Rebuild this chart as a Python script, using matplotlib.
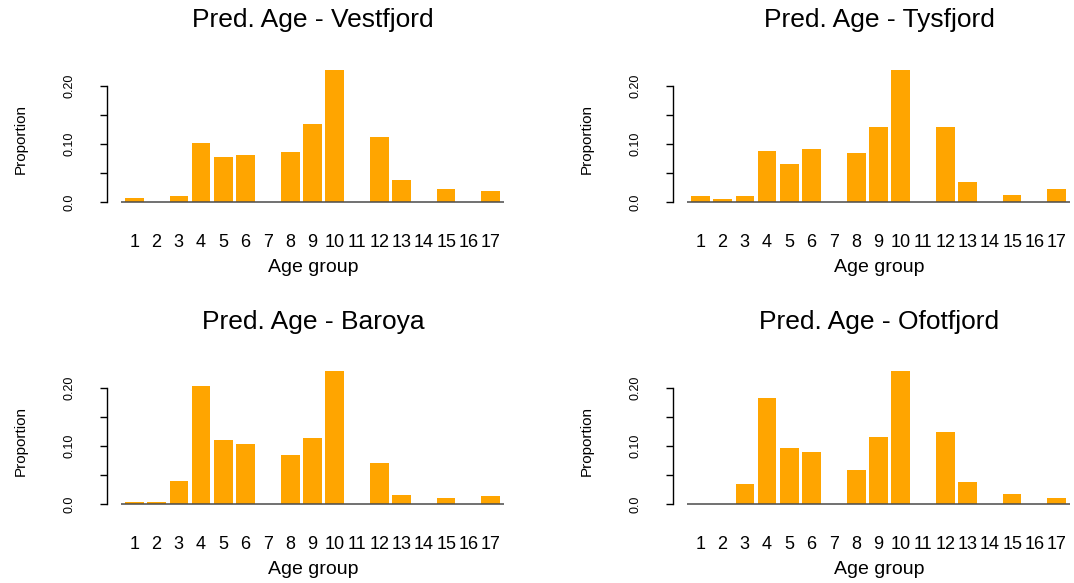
import matplotlib
matplotlib.use('Agg')
import matplotlib.pyplot as plt
import numpy as np

# Proportion per age group
age_groups = [str(i) for i in range(1, 18)]
vestfjord = [0.008, 0.001, 0.010, 0.102, 0.078, 0.081, 0.0, 0.0865, 0.135, 0.2275,
             0.0, 0.112, 0.039, 0.0, 0.022, 0.0, 0.020]
tysfjord = [0.010, 0.006, 0.011, 0.089, 0.066, 0.092, 0.0, 0.084, 0.130, 0.2275,
            0.0, 0.130, 0.0355, 0.0, 0.013, 0.0, 0.022]
baroya = [0.004, 0.004, 0.0395, 0.2034, 0.1106, 0.1037, 0.0, 0.0848, 0.114, 0.229,
          0.0, 0.071, 0.016, 0.0, 0.011, 0.0, 0.014]
ofotfjord = [0.0, 0.0, 0.035, 0.183, 0.0968, 0.090, 0.0, 0.059, 0.116, 0.229,
             0.0, 0.124, 0.038, 0.0, 0.018, 0.0, 0.011]
titles = ['Pred. Age - Vestfjord', 'Pred. Age - Tysfjord',
          'Pred. Age - Baroya', 'Pred. Age - Ofotfjord']
series = [vestfjord, tysfjord, baroya, ofotfjord]

plt.rcParams['font.family'] = ['Liberation Sans', 'DejaVu Sans']

W, H = 1074, 583
fig = plt.figure(figsize=(W / 100, H / 100), dpi=100)

# R barplot geometry: width 1, space 0.2
centers = 0.7 + 1.2 * np.arange(len(age_groups))

# panel layout in pixels: (y-axis x, top of plot, title centre x)
col_x = [107, 673]
row_top = [64.5, 366.2]
title_cx = [313, 879]
axw, axh = 411, 143.6

for k, (vals, title) in enumerate(zip(series, titles)):
    r, c = divmod(k, 2)
    x0 = col_x[c]
    top = row_top[r]
    ax = fig.add_axes([x0 / W, 1 - (top + axh) / H, axw / W, axh / H])
    ax.bar(centers, vals, width=1.0, color='#FFA500', edgecolor='none', zorder=2)
    ax.plot([0, 20.6], [0, 0], color=(0.3, 0.3, 0.3), alpha=0.8, lw=1.4, zorder=3,
            solid_capstyle='butt')
    ax.set_xlim(-0.77, 21.37)
    ax.set_ylim(-0.01, 0.237)
    for s in ['top', 'right', 'bottom']:
        ax.spines[s].set_visible(False)
    ax.spines['left'].set_bounds(0, 0.2)
    ax.spines['left'].set_linewidth(1.0)
    ax.set_yticks([0, 0.05, 0.10, 0.15, 0.20])
    ax.set_yticklabels(['0.0', '', '0.10', '', '0.20'], rotation=90, va='center')
    ax.tick_params(axis='y', length=5, width=1.0, pad=18, labelsize=9)
    ax.set_xticks(centers)
    ax.set_xticklabels(age_groups)
    ax.tick_params(axis='x', length=0, pad=19, labelsize=13)
    ax.patch.set_visible(False)

    base = r * 302
    fig.text(title_cx[c] / W, 1 - (27 + base) / H, title, ha='center', va='baseline',
             fontsize=19)
    fig.text(title_cx[c] / W, 1 - (272 + base) / H, 'Age group', ha='center',
             va='baseline', fontsize=14)
    fig.text((x0 - 86) / W, 1 - (139 + base) / H, 'Proportion', ha='center',
             va='center', rotation=90, fontsize=11)

fig.savefig('out.png', dpi=100)
